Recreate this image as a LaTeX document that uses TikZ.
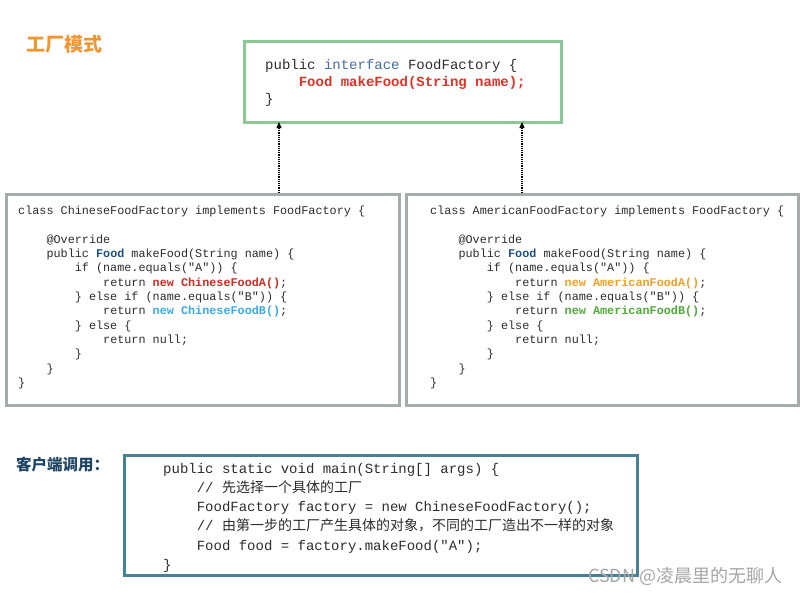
\documentclass[tikz,border=0pt]{standalone}
\usepackage{fontspec}
\setmonofont{Liberation Mono}
\newfontfamily\cjk{Noto Sans CJK SC}
\usetikzlibrary{arrows.meta}
\definecolor{gbord}{RGB}{140,200,150}
\definecolor{gray1}{RGB}{165,172,172}
\definecolor{teal1}{RGB}{70,130,150}
\definecolor{orng}{RGB}{240,150,50}
\definecolor{redc}{RGB}{205,45,35}
\definecolor{redi}{RGB}{225,50,40}
\definecolor{dblue}{RGB}{30,80,130}
\definecolor{iblue}{RGB}{70,110,160}
\definecolor{lblue}{RGB}{60,170,230}
\definecolor{aorng}{RGB}{240,160,40}
\definecolor{agrn}{RGB}{80,170,60}
\definecolor{txt}{RGB}{45,45,45}
\definecolor{hdr}{RGB}{30,70,100}
\newcommand{\ind}[1]{\hspace*{#1\fontcharwd\font`a}}
\tikzset{
  box/.style={draw=#1,line width=3pt,inner sep=0pt},
  code/.style={anchor=north west,align=left,inner sep=0pt,text=txt,font=\ttfamily},
  dep/.style={densely dotted,line width=1.2pt,-{Triangle[length=6pt,width=5pt]}},
}
\begin{document}
\begin{tikzpicture}[x=1pt,y=-1pt]
\useasboundingbox (0,0) rectangle (806,594);
\fill[white] (0,0) rectangle (806,594);
\node[anchor=west,text=orng,font=\cjk\bfseries\fontsize{19}{22}\selectfont,inner sep=0] (title) at (26,44) {工厂模式};
% boxes
\node[box=gbord,minimum width=317pt,minimum height=81pt,anchor=north west] (iface) at (243,40) {};
\node[box=gray1,minimum width=393pt,minimum height=211pt,anchor=north west] (cf) at (5,193) {};
\node[box=gray1,minimum width=392pt,minimum height=211pt,anchor=north west] (af) at (405,193) {};
\node[box=teal1,minimum width=513pt,minimum height=120pt,anchor=north west] (cl) at (123,454) {};
\coordinate (la) at (279,193); \coordinate (lb) at (279,122);
\coordinate (ra) at (522,193); \coordinate (rb) at (522,122);
\draw[dep] (la) -- (lb);
\draw[dep] (ra) -- (rb);
% interface text
\node[code,font=\ttfamily\fontsize{14}{17}\selectfont] (it) at (265,59) {public \textcolor{iblue}{interface} FoodFactory \{\\
\ind{4}\textcolor{redi}{\bfseries Food makeFood(String name);}\\
\}};
% Chinese factory
\node[code,font=\ttfamily\fontsize{11.8}{14.3}\selectfont] (ct) at (18,206) {class ChineseFoodFactory implements FoodFactory \{\\
\mbox{}\\
\ind{4}@Override\\
\ind{4}public \textcolor{dblue}{\bfseries Food} makeFood(String name) \{\\
\ind{8}if (name.equals("A")) \{\\
\ind{12}return \textcolor{redc}{\bfseries new ChineseFoodA()};\\
\ind{8}\} else if (name.equals("B")) \{\\
\ind{12}return \textcolor{lblue}{\bfseries new ChineseFoodB()};\\
\ind{8}\} else \{\\
\ind{12}return null;\\
\ind{8}\}\\
\ind{4}\}\\
\}};
% American factory
\node[code,font=\ttfamily\fontsize{11.8}{14.3}\selectfont] (at) at (430,206) {class AmericanFoodFactory implements FoodFactory \{\\
\mbox{}\\
\ind{4}@Override\\
\ind{4}public \textcolor{dblue}{\bfseries Food} makeFood(String name) \{\\
\ind{8}if (name.equals("A")) \{\\
\ind{12}return \textcolor{aorng}{\bfseries new AmericanFoodA()};\\
\ind{8}\} else if (name.equals("B")) \{\\
\ind{12}return \textcolor{agrn}{\bfseries new AmericanFoodB()};\\
\ind{8}\} else \{\\
\ind{12}return null;\\
\ind{8}\}\\
\ind{4}\}\\
\}};
% client
\node[anchor=west,text=hdr,font=\cjk\bfseries\fontsize{15.5}{18}\selectfont,inner sep=0] (ch) at (16,465) {客户端调用：};
\node[code,font=\ttfamily\fontsize{14}{19.2}\selectfont] (clt) at (163,463) {public static void main(String[] args) \{\\
\ind{4}// {\cjk 先选择一个具体的工厂}\\
\ind{4}FoodFactory factory = new ChineseFoodFactory();\\
\ind{4}// {\cjk 由第一步的工厂产生具体的对象，不同的工厂造出不一样的对象}\\
\ind{4}Food food = factory.makeFood("A");\\
\}};
\node[anchor=west,text=gray!70,font=\cjk\fontsize{18}{20}\selectfont,inner sep=0] (wm) at (588,576) {CSDN @凌晨里的无聊人};
\end{tikzpicture}
\end{document}
